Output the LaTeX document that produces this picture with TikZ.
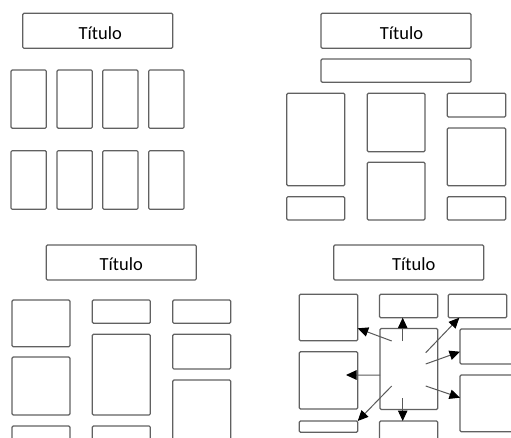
\documentclass[tikz,border=0pt]{standalone}
\usepackage{fontspec}
\setmainfont{Carlito}
\usetikzlibrary{arrows.meta,calc}
\tikzset{
  box/.style={draw=black!62, line width=1.2pt, rounded corners=1.2pt, inner sep=0pt, outer sep=0pt, fill=white},
  ttl/.style={font=\fontsize{18.5}{22}\selectfont, text=black},
  arr/.style={draw=black!65, line width=1pt, -{Triangle[length=10.5pt,width=9.5pt,color=black]}}
}
\newcommand\bx[5]{\node[box, minimum width={(#4)-(#2)}, minimum height={(#5)-(#3)}] (#1) at ({((#2)+(#4))/2},{((#3)+(#5))/2}) {};}
\begin{document}
\begin{tikzpicture}[x=1pt,y=-1pt]
\useasboundingbox (0,0) rectangle (511,438);
\clip (0,0) rectangle (511,438);
% ---------- top-left ----------
\bx{ta}{22.7}{13.3}{172.7}{48.3}
\node[ttl] (tat) at ($(ta.center)+(2.5,2)$) {Título};
\bx{a11}{11}{70}{46.3}{128.3}
\bx{a12}{57}{70}{92.3}{128.3}
\bx{a13}{102.7}{70}{138}{128.3}
\bx{a14}{148.7}{70}{184}{128.3}
\bx{a21}{11}{150.7}{46.3}{209.3}
\bx{a22}{57}{150.7}{92.3}{209.3}
\bx{a23}{102.7}{150.7}{138}{209.3}
\bx{a24}{148.7}{150.7}{184}{209.3}
% ---------- top-right ----------
\bx{tb}{321}{13.3}{471}{48.3}
\node[ttl] (tbt) at ($(tb.center)+(5.5,2)$) {Título};
\bx{bbar}{321}{59}{471}{82.3}
\bx{bl1}{286.7}{93.3}{344.7}{185.7}
\bx{bl2}{286.7}{196.7}{344.7}{220}
\bx{bm1}{367.3}{93.3}{425}{151.7}
\bx{bm2}{367.3}{162.3}{425}{220}
\bx{br1}{447.3}{93.3}{505.7}{117}
\bx{br2}{447.3}{128}{505.7}{185.7}
\bx{br3}{447.3}{196.7}{505.7}{220}
% ---------- bottom-left ----------
\bx{tc}{46.3}{245}{196.3}{280}
\node[ttl] (tct) at ($(tc.center)+(0,2)$) {Título};
\bx{cl1}{12}{300}{70}{346.7}
\bx{cl2}{12}{357}{70}{415}
\bx{cl3}{12}{426}{70}{455}
\bx{cm1}{92.3}{300}{150.3}{323.3}
\bx{cm2}{92.3}{334.3}{150.3}{415}
\bx{cm3}{92.3}{426}{150.3}{455}
\bx{cr1}{172.7}{300}{230.7}{323.3}
\bx{cr2}{172.7}{334.3}{230.7}{369}
\bx{cr3}{172.7}{380}{230.7}{455}
% ---------- bottom-right ----------
\bx{td}{333.7}{245}{483.7}{280}
\node[ttl] (tdt) at ($(td.center)+(5,2)$) {Título};
\bx{dl1}{299.3}{294.3}{357.7}{340.7}
\bx{dl2}{299.3}{351.7}{357.7}{409}
\bx{dl3}{299.3}{421}{357.7}{432.3}
\bx{dm1}{379.5}{294.3}{437.7}{317.7}
\bx{dc}{380}{328.5}{437.7}{409.5}
\bx{dm3}{379.5}{421}{437.7}{460}
\bx{dr1}{448.3}{294.3}{506.7}{317.7}
\bx{dr2}{460}{329}{530}{364}
\bx{dr3}{460}{375}{530}{431.7}
% arrows
\draw[arr] ($(dc.center)+(-6.15,-28)$) -- ($(dm1.south)+(-5.9,0)$);
\draw[arr] ($(dc.center)+(-17.15,-28)$) -- ($(dl1.south east)+(0,-12.4)$);
\draw[arr] ($(dc.west)+(0,6)$) -- ($(dl2.east)+(-11.7,-5.35)$);
\draw[arr] ($(dc.center)+(-17.15,17)$) -- (dl3.north east);
\draw[arr] ($(dc.center)+(-6.15,29.3)$) -- ($(dm3.north)+(-5.9,0)$);
\draw[arr] ($(dc.center)+(16.85,-16.3)$) -- ($(dr1.south west)+(11,0)$);
\draw[arr] ($(dc.center)+(16.85,-5)$) -- ($(dr2.south west)+(0,-12.3)$);
\draw[arr] ($(dc.center)+(16.85,17)$) -- ($(dr3.north west)+(0,22.7)$);
\end{tikzpicture}
\end{document}
